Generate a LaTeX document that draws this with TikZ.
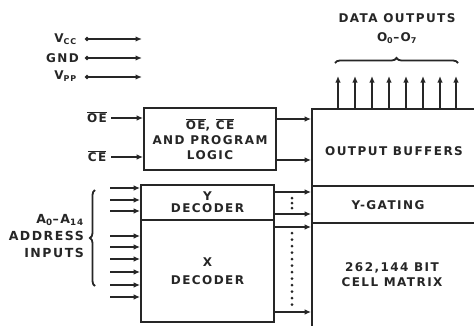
\documentclass[tikz,border=0pt]{standalone}
\usepackage{fontspec}
\setmainfont{DejaVu Sans}[LetterSpace=12]
\usetikzlibrary{arrows.meta,decorations.pathreplacing}
\newcommand\ovl[1]{\ensuremath{\overline{\mbox{#1}}}}
\begin{document}
\begin{tikzpicture}[x=1pt,y=-1pt,
  ink/.style={draw=black!85, line width=1.8pt},
  box/.style={ink, rectangle, inner sep=0pt},
  lbl/.style={font=\fontsize{12}{15}\selectfont\bfseries, text=black!85, align=center, inner sep=0pt},
  sml/.style={font=\fontsize{12}{13}\selectfont\bfseries, text=black!85, inner sep=0pt},
  conn/.style={ink, -{Latex[length=6.5pt,width=5.5pt]}},
  pwr/.style={ink, {Circle[length=4pt]}-{Latex[length=6.5pt,width=5.5pt]}},
  brc/.style={ink, decorate, decoration={brace, amplitude=5pt}},
  dot/.style={circle, fill=black!85, inner sep=0pt, minimum size=3pt}
]
\clip (0,0) rectangle (474,325);
\fill[white] (0,0) rectangle (474,325);

% ---- boxes ----
\node[box, lbl, minimum width=132pt, minimum height=62pt] (logic) at (210,139)
  {\ovl{OE}, \ovl{CE}\\AND PROGRAM\\LOGIC};
\node[box, lbl, minimum width=133pt, minimum height=35pt] (ydec) at (207.5,202.5)
  {Y\\[-3pt]DECODER};
\node[box, lbl, minimum width=133pt, minimum height=102pt] (xdec) at (207.5,271)
  {X\\[3pt]DECODER};

\node[box, minimum width=180pt, minimum height=77pt] (outbuf) at (402,147.5) {};
\node[box, minimum width=180pt, minimum height=37pt] (ygate) at (402,204.5) {};
\node[box, minimum width=180pt, minimum height=104pt] (matrix) at (402,275) {};
\node[lbl] (obt) at (394,151) {OUTPUT BUFFERS};
\node[lbl] (ygt) at (388,205) {Y-GATING};
\node[lbl] (mxt) at (392,275) {262,144 BIT\\CELL MATRIX};

% ---- power pins ----
\node[sml, anchor=east] (vcc) at (77,39) {V\textsubscript{CC}};
\node[sml, anchor=east] (gnd) at (79,58) {GND};
\node[sml, anchor=east] (vpp) at (77,76) {V\textsubscript{PP}};
\coordinate (vccS) at (85,39);  \coordinate (vccE) at (142,39);
\coordinate (gndS) at (85,58);  \coordinate (gndE) at (142,58);
\coordinate (vppS) at (85,77);  \coordinate (vppE) at (142,77);
\draw[pwr] (vccS) -- (vccE);
\draw[pwr] (gndS) -- (gndE);
\draw[pwr] (vppS) -- (vppE);

% ---- control inputs ----
\node[sml] (oe) at (97,117) {\ovl{OE}};
\node[sml] (ce) at (97,156) {\ovl{CE}};
\coordinate (oeS) at (111,118);
\coordinate (ceS) at (111,157);
\draw[conn] (oeS) -- (logic.west |- oeS);
\draw[conn] (ceS) -- (logic.west |- ceS);

% ---- logic to output buffers ----
\draw[conn] (logic.east |- 0,119) -- (outbuf.west |- 0,119);
\draw[conn] (logic.east |- 0,160) -- (outbuf.west |- 0,160);

% ---- decoder outputs ----
\draw[conn] (ydec.east |- 0,192) -- (ygate.west |- 0,192);
\draw[conn] (ydec.east |- 0,214) -- (ygate.west |- 0,214);
\draw[conn] (xdec.east |- 0,227) -- (matrix.west |- 0,227);
\draw[conn] (xdec.east |- 0,312) -- (matrix.west |- 0,312);
\foreach \y in {198,203,208} \node[dot] at (292,\y) {};
\foreach \y in {233,239.5,...,307} \node[dot] at (292,\y) {};

% ---- address inputs ----
\foreach \y [count=\i] in {188,200,211} {
  \coordinate (ya\i) at (110,\y);
  \draw[conn] (ya\i) -- (ydec.west |- ya\i);
}
\foreach \y [count=\i] in {236,247,259,272,285,297} {
  \coordinate (xa\i) at (110,\y);
  \draw[conn] (xa\i) -- (xdec.west |- xa\i);
}
\node[lbl, align=right, anchor=east, font=\fontsize{12.5}{17}\selectfont\bfseries] (addr) at (84,236)
  {A\textsubscript{0}--A\textsubscript{14}\\ADDRESS\\INPUTS};
\coordinate (abB) at (95,286);
\coordinate (abT) at (95,190);
\draw[brc] (abB) -- (abT);

% ---- data outputs ----
\node[lbl] (dout) at (397,18) {DATA OUTPUTS};
\node[lbl] (orng) at (397,38) {O\textsubscript{0}--O\textsubscript{7}};
\coordinate (dbL) at (335,63);
\coordinate (dbR) at (458,63);
\draw[brc] (dbL) -- (dbR);
\foreach \x [count=\i] in {338,355,372,389,406,423,440,456} {
  \coordinate (o\i) at (\x,76);
  \draw[conn] (outbuf.north -| o\i) -- (o\i);
}
\end{tikzpicture}
\end{document}
